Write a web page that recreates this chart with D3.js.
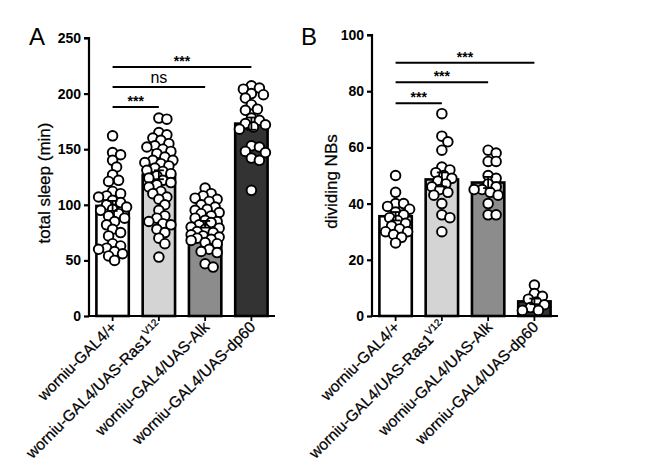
<!DOCTYPE html>
<html><head><meta charset="utf-8">
<script src="https://cdn.jsdelivr.net/npm/d3@7"></script>
<style>body{margin:0;background:#fff}svg{display:block}text{font-family:"Liberation Sans",Arial,sans-serif}</style>
</head><body><svg id="c" width="659" height="471"></svg>
<script>
const categories = ["worniu-GAL4/+", "worniu-GAL4/UAS-Ras1", "worniu-GAL4/UAS-Alk", "worniu-GAL4/UAS-dp60"];
const superscripts = ["", "V12", "", ""];
const fills = ["#ffffff", "#d4d4d4", "#8c8c8c", "#333333"];

// Panel A: total sleep (min)
const sleepMeans = [99, 127, 82.5, 173];
const sleepSem = [4.5, 4, 3, 5.5];
const sleepPoints = [
  [162,147,145,140,134,127,122,121,112,110,108,107,104,102,100,98,96,95,92,90,88,85,82,78,75,72,65,63,61,60,58,56,54,50],
  [178,177,165,163,160,158,155,153,152,150,148,146,143,140,140,138,137,135,133,131,130,128,126,124,122,120,118,116,112,110,107,105,100,95,90,88,85,83,82,78,75,70,65,53],
  [115,110,108,106,105,103,100,98,96,95,93,92,90,88,86,85,84,82,80,79,78,76,75,73,72,71,70,69,68,66,65,60,58,57,47,44],
  [207,205,204,200,199,196,190,186,185,178,176,173,172,170,168,153,152,148,147,142,140,113]
];
const sleepTicks = [0,50,100,150,200,250];
const sleepSig = [{a:0,b:1,y:188,t:"***"},{a:0,b:2,y:206,t:"ns"},{a:0,b:3,y:224,t:"***"}];

// Panel B: dividing NBs
const nbMeans = [35.5, 48.6, 47.5, 5.2];
const nbSem = [1.5, 2.5, 2, 1];
const nbPoints = [
  [50,44,40,40,39,38,37,36,35,34,33,32,31,30,30,29,28,26],
  [72,64,62,59,53,52,51,50,49,48,47,46,45,44,43,40,36,35,30],
  [59,58,55,55,50,49,47,46,45,45,44,43,40,36,36],
  [11,8,7,6,5,4,3,2,2]
];
const nbTicks = [0,20,40,60,80,100];
const nbSig = [{a:0,b:1,y:75.7,t:"***"},{a:0,b:2,y:83.2,t:"***"},{a:0,b:3,y:90.1,t:"***"}];

const svg = d3.select("#c");

function swarm(vals, y, minD, maxOff){
  const placed = [];
  return vals.map(v => {
    const py = y(v);
    let off = 0, best = null;
    for (let k = 0; k < 30; k++) {
      const cand = k === 0 ? 0 : (k % 2 ? 1 : -1) * Math.ceil(k/2) * 2;
      if (Math.abs(cand) > maxOff) break;
      if (placed.every(p => (p.x-cand)**2 + (p.y-py)**2 >= minD*minD)) { best = cand; break; }
    }
    if (best === null) {
      // choose least-overlapping position within limits
      let bestScore = Infinity;
      for (let c = -maxOff; c <= maxOff; c += 2) {
        const s = d3.min(placed, p => (p.x-c)**2 + (p.y-py)**2);
        if (-s < bestScore) { bestScore = -s; best = c; }
      }
    }
    off = best;
    placed.push({x:off, y:py});
    return {v, dx:off, y:py};
  });
}

function panel(o){
  const g = svg.append("g");
  const x = d3.scaleBand().domain(categories).range(o.xr).paddingInner(0.3).paddingOuter(0.16);
  const y = d3.scaleLinear().domain(o.dom).range(o.yr);
  g.selectAll("rect.bar").data(o.means).join("rect")
    .attr("x",(d,i)=>x(categories[i])).attr("width",x.bandwidth())
    .attr("y",d=>y(d)).attr("height",d=>y(0)-y(d))
    .attr("fill",(d,i)=>fills[i]).attr("stroke","#000").attr("stroke-width",2.6);
  o.points.forEach((vals,i)=>{
    const cx = x(categories[i]) + x.bandwidth()/2;
    const pts = swarm(vals, y, 7, 14);
    g.selectAll(null).data(pts).join("circle")
      .attr("cx",d=>cx+d.dx).attr("cy",d=>d.y).attr("r",4.8)
      .attr("fill","#fff").attr("stroke","#000").attr("stroke-width",1.9);
  });
  o.means.forEach((m,i)=>{
    const cx = x(categories[i]) + x.bandwidth()/2, s=o.sem[i];
    g.append("line").attr("x1",cx).attr("x2",cx).attr("y1",y(m-s)).attr("y2",y(m+s)).attr("stroke","#000").attr("stroke-width",1.8);
    [m-s,m+s].forEach(v=>g.append("line").attr("x1",cx-5).attr("x2",cx+5).attr("y1",y(v)).attr("y2",y(v)).attr("stroke","#000").attr("stroke-width",1.8));
  });
  const ya = g.append("g").attr("transform",`translate(${o.xr[0]},0)`)
    .call(d3.axisLeft(y).tickValues(o.ticks).tickSize(5).tickPadding(3));
  ya.select(".domain").attr("stroke-width",2.2).attr("d",`M-5,${y(o.dom[1])}H0V${y(0)}`);
  ya.selectAll(".tick line").attr("stroke-width",2.2);
  ya.selectAll(".tick text").attr("font-size",14).attr("font-weight","bold").attr("font-family","Liberation Sans, Arial, sans-serif").attr("fill","#000");
  const xa = g.append("g").attr("transform",`translate(0,${y(0)})`)
    .call(d3.axisBottom(x).tickSize(5).tickFormat(""));
  xa.select(".domain").attr("stroke-width",2.2).attr("d",`M${o.xr[0]},0H${o.xr[1]}`);
  xa.selectAll(".tick line").attr("stroke-width",1.8);
  categories.forEach((c,i)=>{
    const cx = x(c) + x.bandwidth()/2;
    const t = g.append("text").attr("transform",`translate(${cx+5},${y(0)+12}) rotate(-45)`)
      .attr("text-anchor","end").attr("font-size",15.5).attr("fill","#000")
      .attr("stroke","#000").attr("stroke-width",0.25);
    t.append("tspan").text(c);
    if (superscripts[i]) t.append("tspan").attr("font-size",10).attr("dy",-7).text(superscripts[i]);
  });
  g.append("text").attr("transform",`translate(${o.titleX},${(y(0)+y(o.dom[1]))/2+6}) rotate(-90)`)
    .attr("text-anchor","middle").attr("font-size",17).attr("fill","#000")
    .attr("stroke","#000").attr("stroke-width",0.25).text(o.title);
  g.append("text").attr("x",o.letterX).attr("y",45).attr("font-size",24).attr("fill","#000").text(o.letter);
  o.sig.forEach(s=>{
    const x1 = x(categories[s.a]) + x.bandwidth()/2, x2 = x(categories[s.b]) + x.bandwidth()/2;
    g.append("line").attr("x1",x1).attr("x2",x2).attr("y1",y(s.y)).attr("y2",y(s.y)).attr("stroke","#000").attr("stroke-width",2);
    g.append("text").attr("x",(x1+x2)/2).attr("y",y(s.y)-(s.t==="ns"?4:1)).attr("text-anchor","middle")
      .attr("font-size",s.t==="ns"?16:14).attr("font-weight",s.t==="ns"?"normal":"bold").attr("fill","#000").text(s.t);
  });
}

panel({xr:[89,275], yr:[316,38], dom:[0,250], means:sleepMeans, sem:sleepSem, points:sleepPoints, ticks:sleepTicks,
  sig:sleepSig, title:"total sleep (min)", titleX:50, letter:"A", letterX:29});
panel({xr:[372,558], yr:[316,35], dom:[0,100], means:nbMeans, sem:nbSem, points:nbPoints, ticks:nbTicks,
  sig:nbSig, title:"dividing NBs", titleX:337, letter:"B", letterX:301});
</script></body></html>
